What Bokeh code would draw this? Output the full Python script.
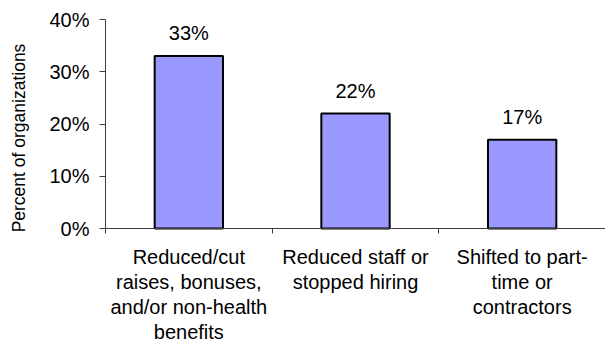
from bokeh.embed import file_html
from bokeh.models import FixedTicker, Label
from bokeh.plotting import figure
from bokeh.resources import INLINE

# Survey responses: share of organizations taking each action
categories = [
    "Reduced/cut\nraises, bonuses,\nand/or non-health\nbenefits",
    "Reduced staff or\nstopped hiring",
    "Shifted to part-\ntime or\ncontractors",
]
values = [33, 22, 17]
value_labels = ["33%", "22%", "17%"]
y_ticks = [0, 10, 20, 30, 40]
y_tick_labels = ["0%", "10%", "20%", "30%", "40%"]
y_title = "Percent of organizations"

FONT = "Liberation Sans"
BAR_FILL = "#9999FF"
AXIS_COLOR = "#3c3c3c"
TEXT_SIZE = "20px"

W, H = 605, 341
# Pixel geometry of the plotting area inside the canvas
AX_LEFT, AX_TOP, AX_BOTTOM = 105, 19, 228
n = len(values)
px_per_cat = (W - AX_LEFT) / n
px_per_pct = (AX_BOTTOM - AX_TOP) / 40

# Ranges are extended so the data frame fills the canvas and the axes sit
# at x=0 / y=0, leaving room for the labels around them.
x_start = -AX_LEFT / px_per_cat
x_end = n
y_end = 40 + AX_TOP / px_per_pct
y_start = -(H - AX_BOTTOM) / px_per_pct

p = figure(
    width=W,
    height=H,
    x_range=(x_start, x_end),
    y_range=(y_start, y_end),
    output_backend="svg",
    toolbar_location=None,
    min_border=0,
)
p.outline_line_color = None
p.grid.visible = False
p.background_fill_color = "white"
p.border_fill_color = "white"

# Bars centred in each category slot
centers = [i + 0.5 for i in range(n)]
p.vbar(
    x=centers,
    top=values,
    bottom=0,
    width=0.41,
    fill_color=BAR_FILL,
    line_color="black",
    line_width=2,
)

# Value labels above the bars
for cx, v, txt in zip(centers, values, value_labels):
    p.add_layout(
        Label(
            x=cx,
            y=v,
            y_offset=23,
            text=txt,
            text_align="center",
            text_baseline="middle",
            text_font=FONT,
            text_font_size=TEXT_SIZE,
            text_color="black",
        )
    )

# Y axis: percentages with outward ticks, pinned at x=0
yax = p.yaxis[0]
yax.fixed_location = 0
yax.bounds = (0, 40)
yax.ticker = FixedTicker(ticks=y_ticks, minor_ticks=[])
yax.major_label_overrides = dict(zip(y_ticks, y_tick_labels))
yax.major_tick_in = 0
yax.major_tick_out = 6
yax.minor_tick_line_color = None
yax.axis_line_color = AXIS_COLOR
yax.major_tick_line_color = AXIS_COLOR
yax.major_label_standoff = 10
yax.major_label_text_font = FONT
yax.major_label_text_font_size = TEXT_SIZE
yax.major_label_text_color = "black"

# X axis pinned at y=0: names at slot centres, tick marks at slot boundaries
xax = p.xaxis[0]
xax.fixed_location = 0
xax.bounds = (0, n)
xax.ticker = FixedTicker(ticks=centers, minor_ticks=list(range(n + 1)))
xax.major_label_overrides = dict(zip(centers, categories))
xax.major_tick_in = 0
xax.major_tick_out = 0
xax.major_tick_line_color = None
xax.minor_tick_in = 0
xax.minor_tick_out = 5
xax.minor_tick_line_color = AXIS_COLOR
xax.axis_line_color = AXIS_COLOR
xax.major_label_standoff = 12
xax.major_label_text_font = FONT
xax.major_label_text_font_size = TEXT_SIZE
xax.major_label_text_line_height = 1.15
xax.major_label_text_align = "center"
xax.major_label_text_color = "black"

# Rotated y-axis title
p.add_layout(
    Label(
        x=(18 - AX_LEFT) / px_per_cat,
        y=(AX_BOTTOM - 137.5) / px_per_pct,
        text=y_title,
        angle=1.5707963267948966,
        text_align="center",
        text_baseline="middle",
        text_font=FONT,
        text_font_size="17.5px",
        text_color="black",
    )
)

open("out.html", "w").write(file_html(p, INLINE))
